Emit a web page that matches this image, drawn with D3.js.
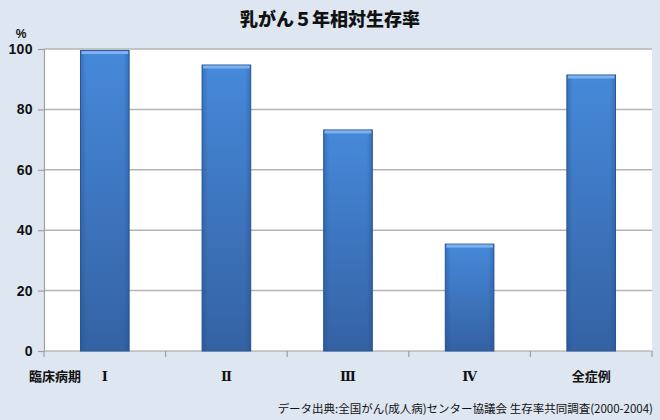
<!DOCTYPE html>
<html><head><meta charset="utf-8">
<script src="https://cdn.jsdelivr.net/npm/d3@7"></script>
<style>body{margin:0;background:#dde6f1;}svg{display:block;}</style>
</head><body>
<script>
const categories = ["Ⅰ", "Ⅱ", "Ⅲ", "Ⅳ", "全症例"];
const values = [99.5, 94.7, 73.2, 35.4, 91.4];
const yTicks = [0, 20, 40, 60, 80, 100];
const title = "乳がん５年相対生存率";
const source = "データ出典:全国がん(成人病)センター協議会 生存率共同調査(2000-2004)";

const W = 660, H = 420;
const m = {left: 44, right: 8, top: 49, bottom: 69};
const svg = d3.select("body").append("svg").attr("width", W).attr("height", H);
svg.append("rect").attr("width", W).attr("height", H).attr("fill", "#dde6f1");

const x = d3.scaleBand().domain(categories).range([m.left, W - m.right]).paddingInner(0.6).paddingOuter(0.3);
const y = d3.scaleLinear().domain([0, 100]).range([H - m.bottom, m.top]);

const defs = svg.append("defs");
const g1 = defs.append("linearGradient").attr("id", "bg").attr("x1", 0).attr("y1", 0).attr("x2", 0).attr("y2", 1);
g1.append("stop").attr("offset", "0%").attr("stop-color", "#4689da");
g1.append("stop").attr("offset", "100%").attr("stop-color", "#3462a3");
const g2 = defs.append("linearGradient").attr("id", "bh").attr("x1", 0).attr("y1", 0).attr("x2", 1).attr("y2", 0);
g2.append("stop").attr("offset", "0%").attr("stop-color", "#1d4a86").attr("stop-opacity", 0.35);
g2.append("stop").attr("offset", "12%").attr("stop-color", "#1d4a86").attr("stop-opacity", 0);
g2.append("stop").attr("offset", "88%").attr("stop-color", "#1d4a86").attr("stop-opacity", 0);
g2.append("stop").attr("offset", "100%").attr("stop-color", "#1d4a86").attr("stop-opacity", 0.35);

// plot area
svg.append("rect").attr("x", m.left).attr("y", y(100)).attr("width", W - m.right - m.left).attr("height", y(0) - y(100)).attr("fill", "#ffffff");

// grid
svg.append("g").selectAll("line").data(yTicks.filter(d => d > 0)).join("line")
  .attr("x1", m.left).attr("x2", W - m.right)
  .attr("y1", d => y(d)).attr("y2", d => y(d))
  .attr("stroke", "#b4b4b4").attr("stroke-width", 1.5);

// y axis
const yAxis = svg.append("g").attr("transform", `translate(${m.left},0)`)
  .call(d3.axisLeft(y).tickValues(yTicks).tickSize(6).tickPadding(5));
yAxis.select(".domain").attr("stroke", "#a0a0a0").attr("stroke-width", 1.2);
yAxis.selectAll(".tick line").attr("stroke", "#a0a0a0").attr("stroke-width", 1.2);
yAxis.selectAll("text").attr("font-family", "'Liberation Sans', Arial, sans-serif").attr("font-weight", "bold").attr("font-size", 14).attr("letter-spacing", 0.4).attr("fill", "#111");

// x axis with boundary ticks
const xg = svg.append("g").attr("transform", `translate(0,${y(0)})`);
xg.append("line").attr("x1", m.left).attr("x2", W - m.right).attr("y1", 0).attr("y2", 0).attr("stroke", "#a0a0a0").attr("stroke-width", 1.2);
const bounds = d3.range(categories.length + 1).map(i => m.left + i * (W - m.right - m.left) / categories.length);
xg.selectAll(".bt").data(bounds).join("line").attr("class", "bt")
  .attr("x1", d => d).attr("x2", d => d).attr("y1", 0).attr("y2", 6)
  .attr("stroke", "#a0a0a0").attr("stroke-width", 1.2);

// bars
const bars = svg.append("g").selectAll("g").data(categories).join("g");
bars.append("rect")
  .attr("x", d => x(d)).attr("y", (d, i) => y(values[i]))
  .attr("width", x.bandwidth()).attr("height", (d, i) => y(0) - y(values[i]))
  .attr("fill", "url(#bg)").attr("stroke", "#2b5796").attr("stroke-width", 1);
bars.append("rect")
  .attr("x", d => x(d)).attr("y", (d, i) => y(values[i]))
  .attr("width", x.bandwidth()).attr("height", (d, i) => y(0) - y(values[i]))
  .attr("fill", "url(#bh)");
bars.append("rect")
  .attr("x", d => x(d) + 1).attr("y", (d, i) => y(values[i]) + 0.5)
  .attr("width", x.bandwidth() - 2).attr("height", 3)
  .attr("fill", "#7eb2ee");

// x labels
svg.append("g").selectAll("text").data(categories).join("text")
  .attr("x", d => x(d) + x.bandwidth() / 2).attr("y", 381)
  .attr("text-anchor", "middle")
  .attr("font-family", (d, i) => i < 4 ? "'DejaVu Serif', 'Liberation Serif', serif" : "'Noto Sans CJK JP', sans-serif")
  .attr("font-weight", "bold").attr("font-size", 13).attr("fill", "#111")
  .text(d => d);
svg.append("text").attr("x", 55).attr("y", 381).attr("text-anchor", "middle")
  .attr("font-family", "'Noto Sans CJK JP', sans-serif").attr("font-weight", "bold").attr("font-size", 13).attr("fill", "#111")
  .text("臨床病期");

// title
svg.append("text").attr("x", 330).attr("y", 26).attr("text-anchor", "middle")
  .attr("font-family", "'Noto Sans CJK JP', sans-serif").attr("font-weight", "900").attr("font-size", 18).attr("fill", "#111")
  .text(title);
svg.append("text").attr("x", 21).attr("y", 38).attr("text-anchor", "middle")
  .attr("font-family", "'Liberation Sans', Arial, sans-serif").attr("font-weight", "bold").attr("font-size", 12).attr("fill", "#111")
  .text("%");

// source
svg.append("text").attr("x", 653).attr("y", 413).attr("text-anchor", "end")
  .attr("font-family", "'Noto Sans CJK JP', sans-serif").attr("font-size", 11.5).attr("fill", "#111")
  .text(source);
</script>
</body></html>
